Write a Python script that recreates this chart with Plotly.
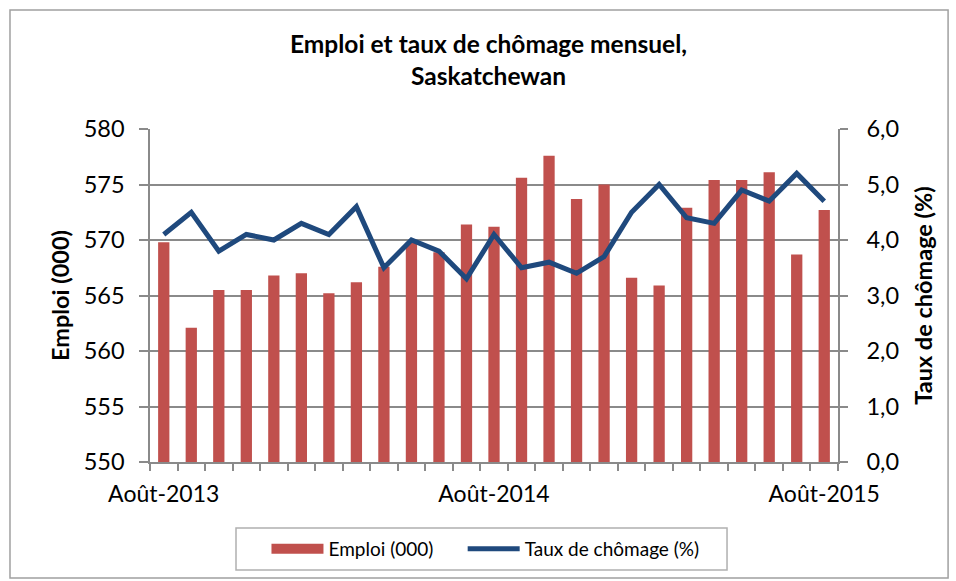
import plotly.graph_objects as go

months = ["Août-2013", "Sept-2013", "Oct-2013", "Nov-2013", "Déc-2013",
          "Janv-2014", "Févr-2014", "Mars-2014", "Avr-2014", "Mai-2014", "Juin-2014", "Juil-2014",
          "Août-2014", "Sept-2014", "Oct-2014", "Nov-2014", "Déc-2014",
          "Janv-2015", "Févr-2015", "Mars-2015", "Avr-2015", "Mai-2015", "Juin-2015", "Juil-2015",
          "Août-2015"]
emploi = [569.8, 562.1, 565.5, 565.5, 566.8, 567.0, 565.2, 566.2, 567.6, 569.8, 568.9, 571.4,
          571.2, 575.6, 577.6, 573.7, 575.0, 566.6, 565.9, 572.9, 575.4, 575.4, 576.1, 568.7, 572.7]
chomage = [4.1, 4.5, 3.8, 4.1, 4.0, 4.3, 4.1, 4.6, 3.5, 4.0, 3.8, 3.3,
           4.1, 3.5, 3.6, 3.4, 3.7, 4.5, 5.0, 4.4, 4.3, 4.9, 4.7, 5.2, 4.7]
tick_text = [m if i % 12 == 0 else "" for i, m in enumerate(months)]

FONT = "Lato"
GRID = "#8a8a8a"
RED = "#C0504D"
BLUE = "#1F497D"
NBSP = "\u00a0"

fig = go.Figure()
fig.add_trace(go.Bar(x=months, y=emploi, name="Emploi (000)", marker_color=RED,
                     marker_line_width=0, showlegend=False))
# legend entry drawn as a wide red swatch, like the reference
fig.add_trace(go.Scatter(x=[None], y=[None], name="Emploi (000)" + NBSP * 5, mode="lines",
                         line=dict(color=RED, width=11), showlegend=True))
fig.add_trace(go.Scatter(x=months, y=chomage, name="Taux de chômage (%)", yaxis="y2",
                         mode="lines", line=dict(color=BLUE, width=5)))

fig.update_layout(
    width=956, height=581,
    margin=dict(l=150, r=118, t=129, b=119),
    paper_bgcolor="white", plot_bgcolor="white",
    separators=", ",
    bargap=0.59,
    font=dict(family=FONT, color="#000000"),
    title=dict(text="<b>Emploi et taux de chômage mensuel,<br>Saskatchewan</b>",
               x=0.511, xanchor="center", xref="container",
               y=0.909, yanchor="middle", yref="container",
               font=dict(size=24.5, family=FONT)),
    xaxis=dict(type="category", tickmode="array", tickvals=months, ticktext=tick_text,
               tickson="boundaries", ticks="outside", ticklen=7, tickcolor=GRID, tickwidth=1.5,
               showline=True, linecolor=GRID, linewidth=1.5, showgrid=False,
               ticklabelstandoff=11, automargin=False,
               tickfont=dict(size=23, family=FONT), tickangle=0),
    yaxis=dict(range=[550, 580], dtick=5, tickformat="d", showgrid=True, gridcolor=GRID,
               gridwidth=1.5, showline=True, linecolor=GRID, linewidth=1.5,
               ticks="outside", ticklen=9, tickcolor=GRID, tickwidth=1.5, zeroline=False,
               ticklabelstandoff=10, automargin=False,
               tickfont=dict(size=23.5, family=FONT),
               title=dict(text="<b>Emploi (000)</b>", font=dict(size=23.5, family=FONT), standoff=7)),
    yaxis2=dict(range=[0, 6], dtick=1, tickformat=".1f", overlaying="y", side="right",
                showgrid=False, showline=True, linecolor=GRID, linewidth=1.5,
                ticks="outside", ticklen=8, tickcolor=GRID, tickwidth=1.5, zeroline=False,
                ticklabelstandoff=14, automargin=False,
                tickfont=dict(size=23.5, family=FONT),
                title=dict(text="<b>Taux de chômage (%)</b>", font=dict(size=23.5, family=FONT), standoff=17)),
    legend=dict(orientation="h", x=0.4876, y=-0.261, xanchor="center", yanchor="middle",
                borderwidth=0, bgcolor="rgba(0,0,0,0)", font=dict(size=19, family=FONT),
                itemwidth=52, traceorder="normal"),
    showlegend=True,
)
# chart-area frame
fig.add_shape(type="rect", xref="paper", yref="paper", x0=-0.2035, x1=1.16, y0=-0.348, y1=1.357,
              line=dict(color="#a0a0a0", width=1.5), fillcolor="rgba(0,0,0,0)", layer="below")
# legend frame
fig.add_shape(type="rect", xref="paper", yref="paper", x0=0.125, x1=0.8387, y0=-0.3243, y1=-0.198,
              line=dict(color="#b0b0b0", width=1.5), fillcolor="rgba(0,0,0,0)", layer="below")

fig.write_html("out.html", config={"displayModeBar": False},
               post_script="document.body.style.margin='0';document.body.style.overflow='hidden';")
